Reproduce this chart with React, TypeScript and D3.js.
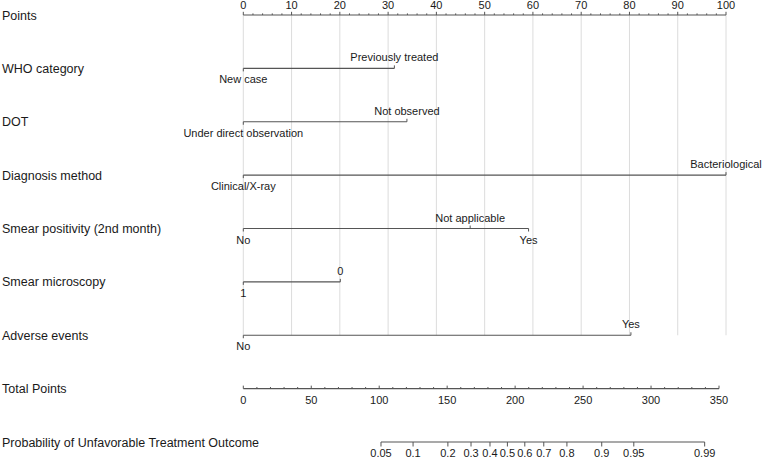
import React, { useEffect } from 'react';
import * as d3 from 'd3';

const WIDTH = 762;
const HEIGHT = 459;

// predictors and the points each level contributes
const variableNames = [
  'WHO category',
  'DOT',
  'Diagnosis method',
  'Smear positivity (2nd month)',
  'Smear microscopy',
  'Adverse events',
];
const levelLabels = [
  ['New case', 'Previously treated'],
  ['Under direct observation', 'Not observed'],
  ['Clinical/X-ray', 'Bacteriological'],
  ['No', 'Not applicable', 'Yes'],
  ['1', '0'],
  ['No', 'Yes'],
];
const levelPoints = [
  [0, 31.3],
  [0, 33.9],
  [0, 100],
  [0, 47, 59.1],
  [0, 20.1],
  [0, 80.3],
];

const pointsTicks = [0, 10, 20, 30, 40, 50, 60, 70, 80, 90, 100];
const totalTicks = [0, 50, 100, 150, 200, 250, 300, 350];
const probTicks = [0.05, 0.1, 0.2, 0.3, 0.4, 0.5, 0.6, 0.7, 0.8, 0.9, 0.95, 0.99];

// linear predictor = intercept + slope * total points
const lpIntercept = -6.152;
const lpSlope = 0.03166;

const FONT = "'Liberation Sans', Arial, sans-serif";
const TEXT = '#1a1a1a';
const LINE = '#555';
const GRID = '#dcdcdc';

const App = () => {
  useEffect(() => {
    document.body.style.margin = '0';
  }, []);

  const x = d3.scaleLinear().domain([0, 100]).range([243.3, 726]);
  const xTotal = d3.scaleLinear().domain([0, 350]).range([243.3, 719]);
  const logit = (p: number) => Math.log(p / (1 - p));
  const xProb = (p: number) => xTotal((logit(p) - lpIntercept) / lpSlope);

  const rowY = d3.scaleLinear().domain([0, 8]).range([15, 442]);
  const pointsMinor = d3.range(0, 101, 2).filter(v => v % 10 !== 0);
  const totalMinor = d3.range(0, 351, 10).filter(v => v % 50 !== 0);
  const gridBottom = rowY(variableNames.length);

  const leftLabel = (text: string, i: number) => (
    <text key={'l' + i} x={2} y={rowY(i) + 4.5} fontSize={12.5} fill={TEXT}>{text}</text>
  );

  return (
    <svg width={WIDTH} height={HEIGHT} style={{ display: 'block', fontFamily: FONT }}>
      <rect width={WIDTH} height={HEIGHT} fill="#fff" />

      {/* vertical reference lines every 10 points */}
      {pointsTicks.map(t => (
        <line key={'g' + t} x1={x(t)} x2={x(t)} y1={rowY(0)} y2={gridBottom} stroke={GRID} strokeWidth={1} />
      ))}

      {/* Points scale */}
      {leftLabel('Points', 0)}
      <line x1={x(0)} x2={x(100)} y1={rowY(0)} y2={rowY(0)} stroke={LINE} strokeWidth={1.2} />
      {pointsTicks.map(t => (
        <g key={'pt' + t}>
          <line x1={x(t)} x2={x(t)} y1={rowY(0)} y2={rowY(0) - 3.2} stroke={LINE} />
          <text x={x(t)} y={rowY(0) - 6} fontSize={11} textAnchor="middle" fill={TEXT}>{t}</text>
        </g>
      ))}
      {pointsMinor.map(t => (
        <line key={'pm' + t} x1={x(t)} x2={x(t)} y1={rowY(0)} y2={rowY(0) - 1.6} stroke={LINE} />
      ))}

      {/* one axis per predictor */}
      {variableNames.map((name, i) => {
        const y = rowY(i + 1);
        const pts = levelPoints[i];
        const order = d3.range(pts.length).sort((a, b) => pts[a] - pts[b]);
        return (
          <g key={'v' + i}>
            {leftLabel(name, i + 1)}
            <line x1={x(d3.min(pts)!)} x2={x(d3.max(pts)!)} y1={y} y2={y} stroke={LINE} strokeWidth={1.2} />
            {order.map((k, rank) => {
              const above = rank % 2 === 1;
              const px = x(pts[k]);
              return (
                <g key={'lv' + k}>
                  <line x1={px} x2={px} y1={y} y2={above ? y - 3 : y + 3} stroke={LINE} />
                  <text x={px} y={above ? y - 7 : y + 15} fontSize={11} textAnchor="middle" fill={TEXT}>
                    {levelLabels[i][k]}
                  </text>
                </g>
              );
            })}
          </g>
        );
      })}

      {/* Total Points scale */}
      {leftLabel('Total Points', 7)}
      <line x1={xTotal(0)} x2={xTotal(350)} y1={rowY(7)} y2={rowY(7)} stroke={LINE} strokeWidth={1.2} />
      {totalTicks.map(t => (
        <g key={'tt' + t}>
          <line x1={xTotal(t)} x2={xTotal(t)} y1={rowY(7)} y2={rowY(7) - 3} stroke={LINE} />
          <text x={xTotal(t)} y={rowY(7) + 15} fontSize={11} textAnchor="middle" fill={TEXT}>{t}</text>
        </g>
      ))}
      {totalMinor.map(t => (
        <line key={'tm' + t} x1={xTotal(t)} x2={xTotal(t)} y1={rowY(7)} y2={rowY(7) - 1.6} stroke={LINE} />
      ))}

      {/* probability scale */}
      {leftLabel('Probability of Unfavorable Treatment Outcome', 8)}
      <line x1={xProb(probTicks[0])} x2={xProb(probTicks[probTicks.length - 1])} y1={rowY(8)} y2={rowY(8)} stroke={LINE} strokeWidth={1.2} />
      {probTicks.map(p => (
        <g key={'pr' + p}>
          <line x1={xProb(p)} x2={xProb(p)} y1={rowY(8)} y2={rowY(8) + 4.5} stroke={LINE} />
          <text x={xProb(p)} y={rowY(8) + 15} fontSize={11} textAnchor="middle" fill={TEXT}>{p}</text>
        </g>
      ))}
    </svg>
  );
};

export default App;
